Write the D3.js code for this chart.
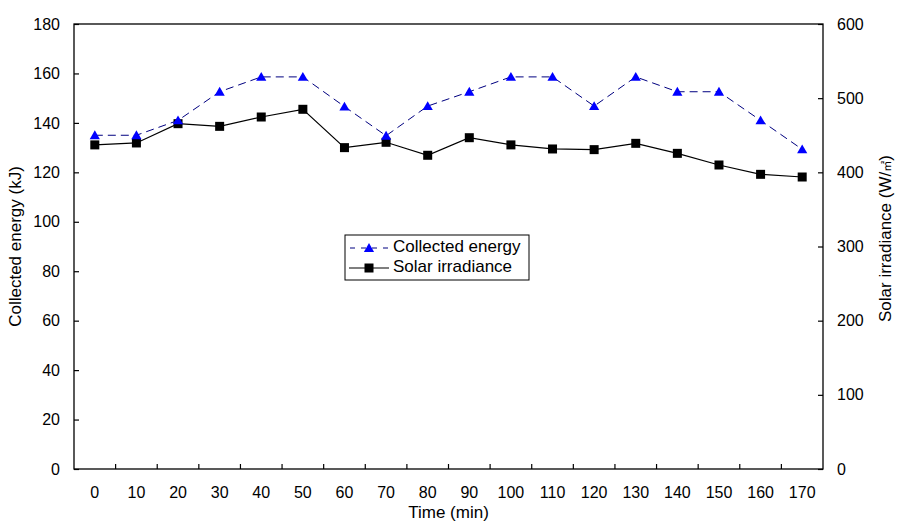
<!DOCTYPE html>
<html><head><meta charset="utf-8">
<script src="https://cdn.jsdelivr.net/npm/d3@7"></script>
<style>body{margin:0;background:#fff}text{font-family:"Liberation Sans",Arial,sans-serif}</style>
</head><body>
<svg id="c" width="907" height="526"></svg>
<script>
const times = [0,10,20,30,40,50,60,70,80,90,100,110,120,130,140,150,160,170];
const energy = [135,135,141,152.6,158.6,158.6,146.6,134.8,146.8,152.6,158.6,158.6,146.8,158.6,152.6,152.6,141,129.3];
const irradiance = [437,439.6,465.6,462,474.6,485,433.3,440.5,423,446.7,437,431.5,430.6,439.1,425.6,409.9,397.3,393.7];
const leftTicks = [0,20,40,60,80,100,120,140,160,180];
const rightTicks = [0,100,200,300,400,500,600];

const svg = d3.select("#c");
const L=74,R=823,T=24,B=469;
const x = d3.scaleBand().domain(times).range([L,R]);
const yL = d3.scaleLinear().domain([0,180]).range([B,T]);
const yR = d3.scaleLinear().domain([0,600]).range([B,T]);
const fs = 16, ts = 17;

// frame
svg.append("rect").attr("x",L).attr("y",T).attr("width",R-L).attr("height",B-T)
  .attr("fill","none").attr("stroke","#000").attr("stroke-width",1.3);

// left axis
const gl = svg.append("g").attr("transform",`translate(${L},0)`)
  .call(d3.axisLeft(yL).tickValues(leftTicks).tickSizeInner(-5).tickSizeOuter(0).tickPadding(14));
gl.select(".domain").remove();
// right axis
const gr = svg.append("g").attr("transform",`translate(${R},0)`)
  .call(d3.axisRight(yR).tickValues(rightTicks).tickSizeInner(-5).tickSizeOuter(0).tickPadding(14));
gr.select(".domain").remove();
// x axis: labels at centers, ticks at band boundaries
const gx = svg.append("g").attr("transform",`translate(0,${B})`)
  .call(d3.axisBottom(x).tickSize(0).tickPadding(18));
gx.select(".domain").remove();
const bounds = times.slice(1).map(t => x(t));
svg.append("g").selectAll("line").data(bounds).join("line")
  .attr("x1",d=>d).attr("x2",d=>d).attr("y1",B).attr("y2",B-5).attr("stroke","#000").attr("stroke-width",1.2);

svg.selectAll(".tick text").attr("font-size",fs).attr("fill","#000").attr("font-family","Liberation Sans, Arial, sans-serif");
svg.selectAll(".tick line").attr("stroke","#000").attr("stroke-width",1.2);

// axis titles
svg.append("text").attr("x",(L+R)/2).attr("y",518).attr("text-anchor","middle").attr("font-size",ts).text("Time (min)");
svg.append("text").attr("transform",`translate(21,${(T+B)/2}) rotate(-90)`).attr("text-anchor","middle").attr("font-size",ts).text("Collected energy (kJ)");
const rt = svg.append("text").attr("transform",`translate(891,322) rotate(-90)`).attr("text-anchor","start").attr("font-size",ts);
rt.append("tspan").text("Solar irradiance (W/");
rt.append("tspan").attr("font-size",11).attr("font-family","Noto Sans CJK SC").text("㎡");
rt.append("tspan").text(")");

const cx = t => x(t)+x.bandwidth()/2;

// irradiance line
svg.append("path").datum(times.map((t,i)=>[cx(t),yR(irradiance[i])]))
  .attr("d",d3.line()).attr("fill","none").attr("stroke","#000").attr("stroke-width",1.2);
svg.append("g").selectAll("rect").data(times).join("rect")
  .attr("x",(t)=>cx(t)-4.5).attr("y",(t,i)=>yR(irradiance[i])-4.5).attr("width",9).attr("height",9).attr("fill","#000");

// energy line
svg.append("path").datum(times.map((t,i)=>[cx(t),yL(energy[i])]))
  .attr("d",d3.line()).attr("fill","none").attr("stroke","#000080").attr("stroke-width",1).attr("stroke-dasharray","8,5");
const tri = d3.symbol().type(d3.symbolTriangle).size(45);
svg.append("g").selectAll("path").data(times).join("path")
  .attr("d",tri).attr("transform",(t,i)=>`translate(${cx(t)},${yL(energy[i])+1})`).attr("fill","#0000FF");

// legend
const lg = svg.append("g");
lg.append("rect").attr("x",345).attr("y",235).attr("width",184).attr("height",45).attr("fill","#fff").attr("stroke","#000").attr("stroke-width",1);
lg.append("line").attr("x1",349).attr("x2",389).attr("y1",248).attr("y2",248).attr("stroke","#000080").attr("stroke-dasharray","5,6").attr("stroke-dashoffset",-1);
lg.append("path").attr("d",tri).attr("transform","translate(369,249)").attr("fill","#0000FF");
lg.append("line").attr("x1",349).attr("x2",389).attr("y1",268).attr("y2",268).attr("stroke","#000").attr("stroke-width",1.2);
lg.append("rect").attr("x",364.5).attr("y",263.5).attr("width",9).attr("height",9).attr("fill","#000");
lg.append("text").attr("x",393).attr("y",252).attr("font-size",ts).text("Collected energy");
lg.append("text").attr("x",393).attr("y",272).attr("font-size",ts).text("Solar irradiance");
</script>
</body></html>
